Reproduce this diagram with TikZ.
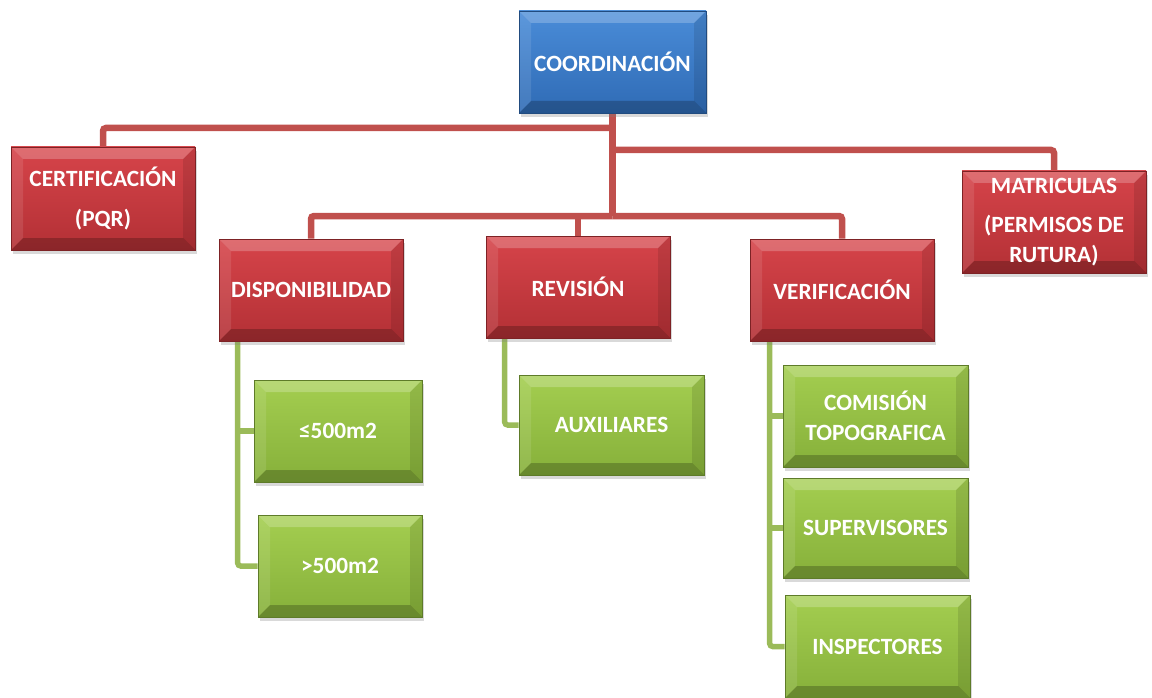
\documentclass[tikz,border=0pt]{standalone}
\usepackage{fontspec}
\setmainfont{Carlito}
\usetikzlibrary{shadows,calc,backgrounds}
\definecolor{bluetop}{HTML}{4A8CD8}
\definecolor{bluebot}{HTML}{2F6BB5}
\definecolor{redtop}{HTML}{D6444A}
\definecolor{redbot}{HTML}{B33035}
\definecolor{greentop}{HTML}{A4CE50}
\definecolor{greenbot}{HTML}{86B03A}
\definecolor{redline}{HTML}{C0504D}
\definecolor{greenline}{HTML}{9BBB59}
\newcommand\mybevel{%
  \fill[white,opacity=0.22] (path picture bounding box.north west) -- (path picture bounding box.north east)
    -- ([xshift=-12pt,yshift=-12pt]path picture bounding box.north east) -- ([xshift=12pt,yshift=-12pt]path picture bounding box.north west) -- cycle;
  \fill[white,opacity=0.10] (path picture bounding box.north west) -- ([xshift=12pt,yshift=-12pt]path picture bounding box.north west)
    -- ([xshift=12pt,yshift=12pt]path picture bounding box.south west) -- (path picture bounding box.south west) -- cycle;
  \fill[black,opacity=0.10] (path picture bounding box.north east) -- ([xshift=-12pt,yshift=-12pt]path picture bounding box.north east)
    -- ([xshift=-12pt,yshift=12pt]path picture bounding box.south east) -- (path picture bounding box.south east) -- cycle;
  \fill[black,opacity=0.22] (path picture bounding box.south west) -- ([xshift=12pt,yshift=12pt]path picture bounding box.south west)
    -- ([xshift=-12pt,yshift=12pt]path picture bounding box.south east) -- (path picture bounding box.south east) -- cycle;
}
\tikzset{
  box/.style={minimum width=184pt, minimum height=102pt, inner sep=0pt, text=white,
    font=\fontsize{23.3}{30}\selectfont\bfseries, align=center,
    drop shadow={shadow xshift=2pt, shadow yshift=-4pt, opacity=0.3},
    path picture={\mybevel}},
  bluebox/.style={box, top color=bluetop, bottom color=bluebot, draw=bluebot!70!black, line width=0.6pt},
  redbox/.style={box, top color=redtop, bottom color=redbot, draw=redbot!70!black, line width=0.6pt},
  greenbox/.style={box, top color=greentop, bottom color=greenbot, draw=greenbot!70!black, line width=0.6pt},
  redconn/.style={draw=redline, line width=6.5pt, rounded corners=3pt},
  greenconn/.style={draw=greenline, line width=5.5pt, rounded corners=3pt},
}
\begin{document}
\begin{tikzpicture}[x=1pt,y=-1pt]
\useasboundingbox (0,0) rectangle (1152,698);
\coordinate (bar1) at (0,128);
\coordinate (bar2) at (0,150);
\coordinate (bar3) at (0,216);
% nodes
\node[bluebox, minimum width=187pt] (coord) at (612.5,62) {COORDINACIÓN};
\node[redbox, minimum height=103pt] (cert) at (103,198.5) {CERTIFICACIÓN\\[10pt](PQR)};
\node[redbox] (matr) at (1054,222) {MATRICULAS\\[9pt](PERMISOS DE\\RUTURA)};
\node[redbox] (disp) at (311,290) {DISPONIBILIDAD};
\node[redbox] (rev) at (578,287) {REVISIÓN};
\node[redbox] (verif) at (842,290) {VERIFICACIÓN};
\node[greenbox, minimum width=168pt] (le) at (338,431) {≤500m2};
\node[greenbox, minimum width=164pt] (gt) at (340,566) {>500m2};
\node[greenbox, minimum width=185pt, minimum height=100pt] (aux) at (611.5,425) {AUXILIARES};
\node[greenbox, minimum width=185pt] (com) at (875.5,416) {COMISIÓN\\TOPOGRAFICA};
\node[greenbox, minimum width=185pt, minimum height=100pt] (sup) at (875.5,528) {SUPERVISORES};
\node[greenbox, minimum width=185pt, minimum height=103pt] (insp) at (877.5,646.5) {INSPECTORES};
% connectors
\begin{pgfonlayer}{background}
\draw[redconn] (coord.south) -- (coord.south |- bar3);
\draw[redconn] (coord.south |- bar1) -| (cert.north);
\draw[redconn] (coord.south |- bar2) -| (matr.north);
\draw[redconn] (coord.south |- bar3) -| (disp.north);
\draw[redconn] (coord.south |- bar3) -| (verif.north);
\draw[redconn] (rev.north |- bar3) -- (rev.north);
\coordinate (dx) at ($(disp.south west)+(19,0)$);
\coordinate (rx) at ($(rev.south west)+(19,0)$);
\coordinate (vx) at ($(verif.south west)+(20,0)$);
\draw[greenconn] (dx) |- (gt.west);
\draw[greenconn] (dx |- le.west) -- (le.west);
\draw[greenconn] (rx) |- (aux.west);
\draw[greenconn] (vx) |- (insp.west);
\draw[greenconn] (vx |- com.west) -- (com.west);
\draw[greenconn] (vx |- sup.west) -- (sup.west);
\end{pgfonlayer}
\end{tikzpicture}
\end{document}
